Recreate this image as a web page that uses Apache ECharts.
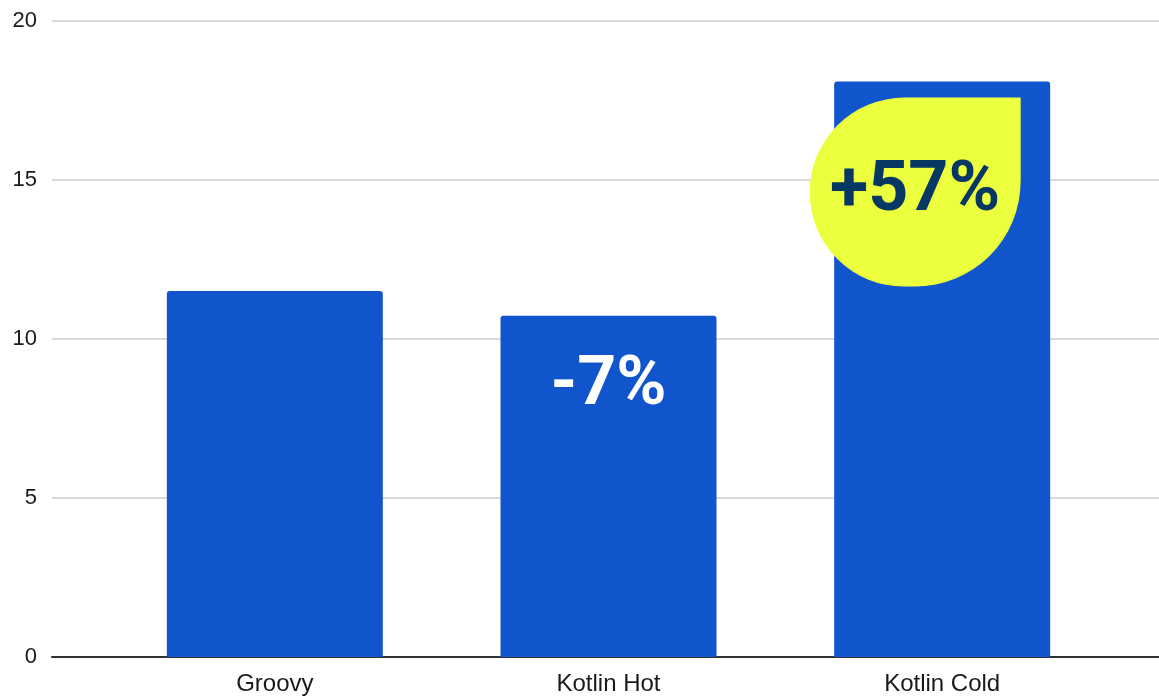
<!DOCTYPE html>
<html>
<head>
<meta charset="utf-8">
<script src="https://cdn.jsdelivr.net/npm/echarts@6/dist/echarts.min.js"></script>
<style>
  html, body { margin: 0; padding: 0; background: #ffffff; }
  #chart { width: 1159px; height: 699px; }
</style>
</head>
<body>
<div id="chart"></div>
<script>
// Build duration per setup
const categories = ['Groovy', 'Kotlin Hot', 'Kotlin Cold'];
const values = [11.5, 10.72, 18.08];
const yTicks = [0, 5, 10, 15, 20];

const BLUE = '#1155cc';
const LIME = '#ecff3e';
const NAVY = '#073763';
const AXIS_FONT = '"Liberation Sans", Arial, sans-serif';
const BIG_FONT = 'Roboto, "Noto Sans", sans-serif';

// change relative to the Groovy baseline, e.g. "-7%" / "+57%"
function delta(v) {
  const pct = Math.round((v / values[0] - 1) * 100);
  return (pct > 0 ? '+' : '') + pct + '%';
}

const barData = values.map(function (v, i) {
  const item = { value: v };
  if (i === 1) {
    item.label = {
      show: true,
      position: 'insideTop',
      distance: 37,
      formatter: function (p) { return delta(p.value); },
      color: '#ffffff',
      fontFamily: BIG_FONT,
      fontWeight: 'bold',
      fontSize: 68,
      lineHeight: 68
    };
  } else if (i === 2) {
    item.label = {
      show: true,
      position: 'insideTop',
      distance: 16,
      offset: [-27, 0],
      formatter: function (p) { return delta(p.value); },
      color: NAVY,
      fontFamily: BIG_FONT,
      fontWeight: 'bold',
      fontSize: 70,
      width: 211,
      lineHeight: 189,
      backgroundColor: LIME,
      borderRadius: [106, 0, 106, 106]
    };
  }
  return item;
});

const chart = echarts.init(document.getElementById('chart'), null, { renderer: 'canvas' });

chart.setOption({
  animation: false,
  backgroundColor: '#ffffff',
  grid: [
    // frame: value labels, gridlines and baseline across the full width
    { left: 52, right: 0, top: 20.5, bottom: 42, containLabel: false },
    // bars and category labels
    { left: 108, right: 50, top: 20.5, bottom: 42, containLabel: false }
  ],
  xAxis: [
    {
      gridIndex: 0, type: 'category', data: [''],
      axisLine: { show: true, lineStyle: { color: '#333333', width: 2 } },
      axisTick: { show: false }, axisLabel: { show: false }, splitLine: { show: false }
    },
    {
      gridIndex: 1, type: 'category', data: categories,
      axisLine: { show: false }, axisTick: { show: false }, splitLine: { show: false },
      axisLabel: {
        color: '#1a1a1a', fontFamily: AXIS_FONT, fontSize: 24, margin: 15
      }
    }
  ],
  yAxis: [
    {
      gridIndex: 0, type: 'value', min: yTicks[0], max: yTicks[yTicks.length - 1], interval: 5,
      axisLine: { show: false }, axisTick: { show: false },
      axisLabel: { color: '#1a1a1a', fontFamily: AXIS_FONT, fontSize: 22, margin: 15 },
      splitLine: { show: true, lineStyle: { color: '#cccccc', width: 1.5 } }
    },
    {
      gridIndex: 1, type: 'value', min: yTicks[0], max: yTicks[yTicks.length - 1], interval: 5,
      show: false, splitLine: { show: false }
    }
  ],
  series: [
    {
      type: 'bar',
      xAxisIndex: 1,
      yAxisIndex: 1,
      data: barData,
      barWidth: 216,
      itemStyle: { color: BLUE, borderRadius: [3, 3, 0, 0] },
      z: 2
    }
  ]
});
</script>
</body>
</html>
